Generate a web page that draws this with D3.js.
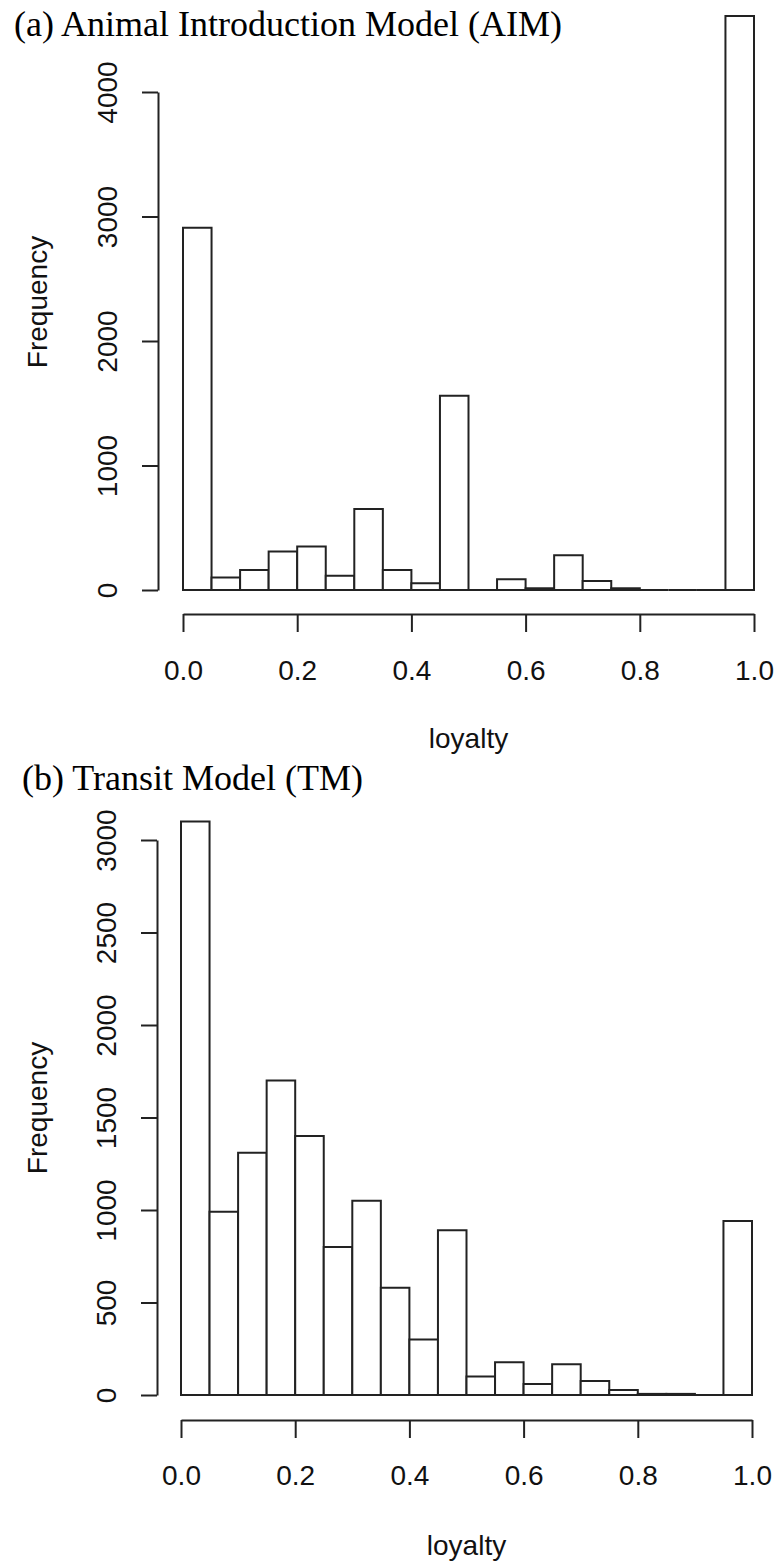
<!DOCTYPE html>
<html>
    <head>
        <title>loyalty histograms</title>
        <script src="https://d3js.org/d3.v7.min.js"></script>
    </head>

    <body>
        <div id="my_dataviz"></div>
    </body>

    <script>
        // histogram bins (left edges, width 0.05)
        var binStarts = [0.00, 0.05, 0.10, 0.15, 0.20, 0.25, 0.30, 0.35, 0.40, 0.45,
                         0.50, 0.55, 0.60, 0.65, 0.70, 0.75, 0.80, 0.85, 0.90, 0.95]
        var binWidth = 0.05

        // counts
        var aimCounts = [2910, 100, 160, 310, 350, 115, 650, 160, 54, 1560,
                         0, 87, 14, 280, 73, 14, 0, 0, 0, 4610]
        var tmCounts = [3100, 990, 1310, 1700, 1400, 800, 1050, 580, 300, 890,
                        100, 177, 60, 166, 76, 27, 6, 6, 0, 940]

        var xTicks = [0, 0.2, 0.4, 0.6, 0.8, 1.0]
        var aimYTicks = [0, 1000, 2000, 3000, 4000]
        var tmYTicks = [0, 500, 1000, 1500, 2000, 2500, 3000]

        var W = 778, H = 1564
        var sans = "'Liberation Sans', Arial, sans-serif"
        var serif = "'Liberation Serif', 'Times New Roman', serif"

        var svg = d3.select("#my_dataviz")
            .append("svg")
            .attr("width", W)
            .attr("height", H)
            .style("background", "#fff")

        function drawHist(p) {
            var g = svg.append("g")

            var x = d3.scaleLinear().domain([0, 1]).range([p.x0, p.x1])
            var y = d3.scaleLinear().domain([0, p.yMax]).range([p.base, p.yTop])

            // bars as closed paths so empty bins still show their bottom edge
            g.selectAll("path.bar")
                .data(p.counts)
                .enter()
                .append("path")
                .attr("class", "bar")
                .attr("d", function(d, i) {
                    var a = x(binStarts[i]), b = x(binStarts[i] + binWidth)
                    var pth = d3.path()
                    pth.moveTo(a, y(0))
                    pth.lineTo(a, y(d))
                    pth.lineTo(b, y(d))
                    pth.lineTo(b, y(0))
                    pth.closePath()
                    return pth.toString()
                })
                .attr("fill", "#fff")
                .attr("stroke", "#222")
                .attr("stroke-width", 2)

            // x axis
            var xa = g.append("g")
                .attr("transform", "translate(0," + p.xAxisY + ")")
                .call(d3.axisBottom(x).tickValues(xTicks).tickSize(18).tickSizeOuter(0)
                    .tickFormat(d3.format(".1f")))
            xa.selectAll("text")
                .attr("y", 0).attr("dy", 0)
                .attr("transform", "translate(0," + p.xLabelOff + ")")

            // y axis
            var ya = g.append("g")
                .attr("transform", "translate(" + p.yAxisX + ",0)")
                .call(d3.axisLeft(y).tickValues(p.yTicks).tickSize(16).tickSizeOuter(0)
                    .tickFormat(d3.format("d")))
            ya.selectAll("text")
                .attr("x", 0).attr("dy", 0)
                .attr("text-anchor", "middle")
                .attr("transform", "translate(-41,0) rotate(-90)")

            g.selectAll(".domain, .tick line")
                .attr("stroke", "#222")
                .attr("stroke-width", 2)
            g.selectAll(".tick text")
                .attr("fill", "#111")
                .style("font-family", sans)
                .style("font-size", "28px")

            // axis titles
            g.append("text")
                .attr("x", (p.x0 + p.x1) / 2)
                .attr("y", p.xlabY)
                .attr("text-anchor", "middle")
                .style("font-family", sans)
                .style("font-size", "28px")
                .attr("fill", "#111")
                .text("loyalty")

            g.append("text")
                .attr("transform", "translate(47," + p.ylabY + ") rotate(-90)")
                .attr("text-anchor", "middle")
                .style("font-family", sans)
                .style("font-size", "28px")
                .attr("fill", "#111")
                .text("Frequency")

            // panel title
            g.append("text")
                .attr("x", p.titleX)
                .attr("y", p.titleY)
                .style("font-family", serif)
                .style("font-size", "36px")
                .attr("fill", "#000")
                .text(p.title)
        }

        drawHist({
            counts: aimCounts, yTicks: aimYTicks, yMax: 4000,
            x0: 183, x1: 754, base: 590, yTop: 92,
            xAxisY: 614, xLabelOff: 66, yAxisX: 158,
            xlabY: 748, ylabY: 302,
            title: "(a) Animal Introduction Model (AIM)", titleX: 14, titleY: 36
        })

        drawHist({
            counts: tmCounts, yTicks: tmYTicks, yMax: 3000,
            x0: 181, x1: 752, base: 1395, yTop: 840,
            xAxisY: 1420, xLabelOff: 65, yAxisX: 157,
            xlabY: 1555, ylabY: 1108,
            title: "(b) Transit Model (TM)", titleX: 22, titleY: 790
        })
    </script>

    <style>
        body { margin: 0; background: #fff; }
    </style>
</html>
